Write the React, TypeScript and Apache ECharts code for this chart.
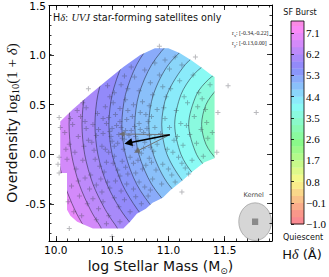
import React, { useEffect, useRef } from "react";
import * as echarts from "echarts";

// ---------- data ----------
const massRange = [9.94, 11.92];
const deltaRange = [-0.875, 1.5];
const massTicks = [10.0, 10.5, 11.0, 11.5];
const massMinorTicks = [10.0, 10.1, 10.2, 10.3, 10.4, 10.5, 10.6, 10.7, 10.8, 10.9, 11.0, 11.1, 11.2, 11.3, 11.4, 11.5, 11.6, 11.7, 11.8, 11.9];
const deltaTicks = [-0.5, 0.0, 0.5, 1.0, 1.5];
const deltaMinorTicks = [-0.8, -0.7, -0.6, -0.5, -0.4, -0.3, -0.2, -0.1, 0.0, 0.1, 0.2, 0.3, 0.4, 0.5, 0.6, 0.7, 0.8, 0.9, 1.0, 1.1, 1.2, 1.3, 1.4, 1.5];

const colorbarRange = [-1.0, 7.6];
const colorbarTicks = [-1.0, -0.1, 0.8, 1.7, 2.6, 3.5, 4.4, 5.3, 6.2, 7.1];
const colorbarLevels = [-1.0, -0.7, -0.4, -0.1, 0.2, 0.5, 0.8, 1.1, 1.4, 1.7, 2.0, 2.3, 2.6, 2.9, 3.2, 3.5, 3.8, 4.1, 4.4, 4.7, 5.0, 5.3, 5.6, 5.9, 6.2, 6.5, 6.8, 7.1, 7.4, 7.6];

// smoothed H-delta field: value outside all contours, contour levels and their paths (mass, overdensity)
const baseHdelta = 7.25;
const contourLevels = [7.1, 6.8, 6.5, 6.2, 5.9, 5.6, 5.3, 5.0, 4.7, 4.4, 4.1, 3.8, 3.5];
const contourPaths = [
  [[10.186, -0.858], [10.106, -0.707], [10.04, -0.556], [9.957, -0.304], [9.899, -0.002], [9.879, 0.3], [9.899, 0.602], [9.957, 0.904], [10.04, 1.156]],
  [[10.326, -0.858], [10.239, -0.707], [10.167, -0.556], [10.078, -0.304], [10.015, -0.002], [9.994, 0.3], [10.015, 0.602], [10.078, 0.904], [10.167, 1.156]],
  [[10.483, -0.858], [10.385, -0.707], [10.306, -0.556], [10.209, -0.304], [10.14, -0.002], [10.118, 0.3], [10.14, 0.602], [10.209, 0.904], [10.306, 1.156]],
  [[10.636, -0.858], [10.525, -0.707], [10.438, -0.556], [10.331, -0.304], [10.257, -0.002], [10.233, 0.3], [10.257, 0.602], [10.331, 0.904], [10.438, 1.156]],
  [[10.801, -0.858], [10.672, -0.707], [10.573, -0.556], [10.455, -0.304], [10.374, -0.002], [10.348, 0.3], [10.374, 0.602], [10.455, 0.904], [10.573, 1.156]],
  [[10.998, -0.858], [10.84, -0.707], [10.724, -0.556], [10.591, -0.304], [10.501, -0.002], [10.472, 0.3], [10.501, 0.602], [10.591, 0.904], [10.724, 1.156]],
  [[11.223, -0.858], [11.013, -0.707], [10.873, -0.556], [10.719, -0.304], [10.619, -0.002], [10.587, 0.3], [10.619, 0.602], [10.719, 0.904], [10.873, 1.156], [11.013, 1.307], [11.223, 1.458]],
  [[11.72, -0.858], [11.423, -0.808], [11.217, -0.707], [11.034, -0.556], [10.852, -0.304], [10.738, -0.002], [10.702, 0.3], [10.738, 0.602], [10.852, 0.904], [11.034, 1.156], [11.217, 1.307], [11.423, 1.408], [11.72, 1.458]],
  [[11.72, -0.717], [11.417, -0.657], [11.237, -0.556], [11.001, -0.304], [10.867, -0.002], [10.826, 0.3], [10.867, 0.602], [11.001, 0.904], [11.237, 1.156], [11.417, 1.257], [11.72, 1.317]],
  [[11.72, -0.586], [11.437, -0.526], [11.313, -0.455], [11.15, -0.304], [10.988, -0.002], [10.941, 0.3], [10.988, 0.602], [11.15, 0.904], [11.313, 1.055], [11.437, 1.126], [11.72, 1.186]],
  [[11.72, -0.455], [11.506, -0.415], [11.389, -0.355], [11.225, -0.204], [11.112, -0.002], [11.056, 0.3], [11.112, 0.602], [11.225, 0.804], [11.389, 0.955], [11.506, 1.015], [11.72, 1.055]],
  [[11.72, -0.314], [11.486, -0.254], [11.355, -0.153], [11.25, -0.002], [11.18, 0.3], [11.25, 0.602], [11.355, 0.753], [11.486, 0.854], [11.72, 0.914]],
  [[11.72, -0.183], [11.531, -0.133], [11.429, -0.052], [11.334, 0.099], [11.295, 0.3], [11.334, 0.501], [11.429, 0.652], [11.531, 0.733], [11.72, 0.783]],
];
// region where the smoothed map is defined (mass, overdensity)
const hullOutline = [
  [10.04, 0.33], [10.15, 0.45], [10.3, 0.6], [10.45, 0.74], [10.6, 0.88], [10.75, 1.0], [10.88, 1.07], [11.0, 1.07], [11.1, 1.02], [11.2, 0.95], [11.3, 0.87], [11.37, 0.81], [11.41, 0.78],
  [11.41, -0.04], [11.32, -0.08], [11.22, -0.17], [11.12, -0.27], [11.02, -0.36], [10.95, -0.44], [10.86, -0.49], [10.8, -0.55], [10.72, -0.6], [10.66, -0.68], [10.6, -0.75],
  [10.33, -0.75], [10.19, -0.68], [10.13, -0.62], [10.1, -0.56], [10.1, -0.19], [10.04, -0.19],
];

// satellites: [log stellar mass, log10(1+delta)]
const satellites = [
  [10.32, 0.12], [10.35, -0.05], [10.38, 0.25], [10.41, 0.08], [10.43, -0.18], [10.45, 0.31], [10.47, 0.02], [10.49, 0.18], [10.51, -0.09], [10.53, 0.4],
  [10.55, 0.11], [10.57, -0.22], [10.58, 0.27], [10.6, 0.05], [10.62, -0.13], [10.63, 0.35], [10.65, 0.19], [10.66, -0.03], [10.68, 0.09], [10.7, 0.28],
  [10.71, -0.19], [10.73, 0.14], [10.75, 0.42], [10.76, 0.01], [10.78, 0.22], [10.8, -0.11], [10.82, 0.33], [10.84, 0.07], [10.86, -0.25], [10.88, 0.17],
  [10.33, 0.3], [10.36, 0.19], [10.39, -0.12], [10.42, 0.36], [10.44, 0.05], [10.46, -0.28], [10.48, 0.23], [10.5, 0.13], [10.52, -0.02], [10.54, 0.29],
  [10.56, 0.2], [10.59, -0.07], [10.61, 0.15], [10.64, 0.44], [10.67, 0.24], [10.69, -0.09], [10.72, 0.04], [10.74, 0.31], [10.77, -0.15], [10.79, 0.12],
  [10.81, 0.26], [10.83, -0.04], [10.85, 0.38], [10.87, 0.03], [10.89, -0.16],
  [10.31, -0.21], [10.34, 0.04], [10.37, 0.41], [10.4, -0.25], [10.42, 0.21], [10.45, -0.08], [10.47, 0.37], [10.5, 0.26], [10.52, 0.08], [10.55, -0.16],
  [10.57, 0.33], [10.59, 0.16], [10.62, 0.24], [10.64, -0.2], [10.66, 0.12], [10.68, 0.38], [10.71, 0.18], [10.73, -0.06], [10.75, 0.25], [10.78, 0.06],
  [10.8, 0.4], [10.83, 0.19], [10.85, -0.08], [10.88, 0.27], [10.9, 0.1],
  [10.36, -0.31], [10.41, -0.38], [10.48, -0.34], [10.53, -0.27], [10.58, -0.37], [10.63, -0.3], [10.69, -0.35], [10.74, -0.28], [10.79, -0.33], [10.84, -0.36],
  [10.44, 0.48], [10.51, 0.52], [10.57, 0.46], [10.62, 0.55], [10.69, 0.5], [10.77, 0.53], [10.83, 0.49], [10.9, 0.45],
  [10.08, 0.22], [10.1, -0.05], [10.12, 0.1], [10.14, -0.32], [10.15, 0.3], [10.17, 0.02], [10.18, -0.15], [10.2, 0.18], [10.21, -0.42], [10.22, 0.38],
  [10.24, -0.06], [10.25, 0.08], [10.26, -0.24], [10.27, 0.26], [10.28, -0.5], [10.29, 0.14], [10.3, -0.35], [10.11, -0.48], [10.16, -0.58], [10.23, -0.62],
  [10.19, 0.44], [10.13, 0.36], [10.27, 0.47], [10.09, 0.05], [10.2, -0.27], [10.26, 0.33],
  [10.33, -0.45], [10.38, -0.55], [10.42, -0.48], [10.47, -0.62], [10.52, -0.44], [10.56, -0.53], [10.61, -0.46], [10.66, -0.58], [10.71, -0.43], [10.76, -0.5],
  [10.82, -0.42], [10.45, -0.7], [10.57, -0.68], [10.36, -0.66],
  [10.93, 0.21], [10.95, -0.1], [10.97, 0.36], [10.99, 0.05], [11.01, 0.27], [11.03, -0.21], [11.05, 0.14], [11.07, 0.44], [11.09, -0.03], [11.11, 0.31],
  [11.13, 0.09], [11.15, -0.14], [11.17, 0.52], [11.19, 0.2], [11.21, -0.06], [11.23, 0.38], [11.25, 0.11], [11.27, 0.62], [11.29, 0.25], [11.31, -0.02],
  [11.33, 0.45], [11.35, 0.16], [11.37, 0.7], [10.94, -0.3], [10.98, 0.58], [11.02, 0.66], [11.06, -0.28], [11.1, 0.74], [11.14, 0.58], [11.18, -0.2],
  [11.22, 0.8], [11.26, 0.48], [11.3, 0.56], [11.34, 0.32], [10.96, 0.47], [11.0, -0.15], [11.04, 0.02], [11.08, 0.18], [11.12, -0.09], [11.16, 0.29],
  [10.52, 0.62], [10.58, 0.7], [10.64, 0.66], [10.7, 0.78], [10.74, 0.64], [10.79, 0.85], [10.84, 0.72], [10.88, 0.92], [10.92, 0.8], [10.97, 0.95],
  [11.01, 0.86], [11.06, 0.98], [10.67, 0.88], [10.61, 0.79], [10.86, 0.6], [11.12, 0.9], [10.48, 0.58], [10.95, 0.68],
  [10.03, 0.37], [10.04, 0.27], [10.03, -0.03], [10.03, -0.19], [10.02, -0.1], [10.12, -0.75], [10.5, -0.83], [10.24, 0.52], [10.29, 0.66], [10.46, 0.69],
  [10.92, 1.09], [11.24, 0.98], [11.53, 0.69], [11.44, 0.42], [11.78, 0.42], [11.43, 0.02], [11.12, -0.38], [11.39, 0.22],
];

// gradient arrows (tail -> head)
const arrowTail = [11.013, 0.197];
const arrowBlackHead = [10.644, 0.114];
const arrowGreyHeads = [[10.586, 0.204], [10.719, 0.029]];

// smoothing kernel
const kernelCenter = [11.77, -0.68];
const kernelRadius = [0.145, 0.19];
const kernelBin = [0.055, 0.065];
const kernelLabelAt = [11.757, -0.407];

// ---------- style ----------
const SANS = "DejaVu Sans";
const SERIF = "Liberation Serif";
const FIELD_CLOSE_X = 11.9;

const cmapStops: [number, number[]][] = [
  [0.0, [1, 0, 0.16]],
  [0.03, [1, 0, 0]],
  [0.215, [1, 1, 0]],
  [0.4, [0, 1, 0]],
  [0.586, [0, 1, 1]],
  [0.77, [0, 0, 1]],
  [0.954, [1, 0, 1]],
  [1.0, [1, 0, 0.75]],
];

function hdColor(v: number): string {
  const t = Math.min(1, Math.max(0, (v - colorbarRange[0]) / (colorbarRange[1] - colorbarRange[0])));
  let k = 0;
  while (k < cmapStops.length - 2 && t > cmapStops[k + 1][0]) k++;
  const [t0, c0] = cmapStops[k];
  const [t1, c1] = cmapStops[k + 1];
  const f = (t - t0) / (t1 - t0);
  const rgb = c0.map((c, j) => {
    const raw = c + (c1[j] - c) * f;
    return Math.round(250 * (1 - 0.45 * (1 - raw)));
  });
  return `rgb(${rgb.join(",")})`;
}

const plotRect = { left: 49, top: 5, width: 223, height: 236 };
const tickFont = { fontFamily: SANS, fontSize: 10.5, color: "#000" };

function xAx(grid: number, position: string, ticks: number[], len: number, line: boolean, labels: boolean) {
  return {
    type: "value", gridIndex: grid, position, min: massRange[0], max: massRange[1], z: 10,
    axisLine: { show: line, onZero: false, lineStyle: { color: "#000", width: 1 } },
    axisTick: { show: true, inside: true, length: len, customValues: ticks, lineStyle: { color: "#000", width: 0.8 } },
    axisLabel: labels
      ? { show: true, customValues: massTicks, margin: 3, formatter: (v: number) => v.toFixed(1), ...tickFont }
      : { show: false },
    splitLine: { show: false },
  };
}
function yAx(grid: number, position: string, ticks: number[], len: number, line: boolean, labels: boolean) {
  return {
    type: "value", gridIndex: grid, position, min: deltaRange[0], max: deltaRange[1], z: 10,
    axisLine: { show: line, onZero: false, lineStyle: { color: "#000", width: 1 } },
    axisTick: { show: true, inside: true, length: len, customValues: ticks, lineStyle: { color: "#000", width: 0.8 } },
    axisLabel: labels
      ? { show: true, customValues: deltaTicks, margin: 3, formatter: (v: number) => v.toFixed(1), ...tickFont }
      : { show: false },
    splitLine: { show: false },
  };
}

export default function App() {
  const ref = useRef<HTMLDivElement>(null);
  useEffect(() => {
    if (!ref.current) return;
    const chart = echarts.init(ref.current, null, { renderer: "svg" });
    const fieldItems = [baseHdelta, ...contourLevels].map((lv, i) => [hullOutline[0][0], hullOutline[0][1], i, lv]);
    const option: any = {
      animation: false,
      grid: [
        { ...plotRect }, { ...plotRect }, { ...plotRect }, { ...plotRect },
        { left: 291, top: 21, width: 13, height: 203 },
      ],
      xAxis: [
        xAx(0, "bottom", massTicks, 5, true, true),
        xAx(1, "top", massTicks, 5, true, false),
        xAx(2, "bottom", massMinorTicks, 2.5, false, false),
        xAx(3, "top", massMinorTicks, 2.5, false, false),
        { type: "value", gridIndex: 4, min: 0, max: 1, show: false },
      ],
      yAxis: [
        yAx(0, "left", deltaTicks, 5, true, true),
        yAx(1, "right", deltaTicks, 5, true, false),
        yAx(2, "left", deltaMinorTicks, 2.5, false, false),
        yAx(3, "right", deltaMinorTicks, 2.5, false, false),
        {
          type: "value", gridIndex: 4, position: "right", min: colorbarRange[0], max: colorbarRange[1], z: 10,
          axisLine: { show: false },
          axisTick: { show: true, inside: false, length: 3, customValues: colorbarTicks, lineStyle: { color: "#000", width: 0.8 } },
          axisLabel: {
            show: true, customValues: colorbarTicks, margin: 2,
            formatter: (v: number) => (v < 0 ? "\u2212" : "") + Math.abs(v).toFixed(1),
            fontFamily: SERIF, fontSize: 11, color: "#000",
          },
          splitLine: { show: false },
        },
      ],
      series: [
        {
          type: "custom", xAxisIndex: 0, yAxisIndex: 0, z: 1, clip: true, silent: true,
          data: fieldItems,
          renderItem: (params: any, api: any) => {
            const k = api.value(2) as number;
            if (k === 0) {
              return { type: "polygon", z2: 0, shape: { points: hullOutline.map((p) => api.coord(p)) }, style: { fill: hdColor(baseHdelta) } };
            }
            const path = contourPaths[k - 1];
            const first = path[0];
            const last = path[path.length - 1];
            const pts = path.map((p) => api.coord(p));
            pts.push(api.coord([FIELD_CLOSE_X, last[1]]), api.coord([FIELD_CLOSE_X, first[1]]));
            return {
              type: "polygon", z2: k,
              shape: { points: pts, smooth: 0.3 },
              style: { fill: hdColor(contourLevels[k - 1] - 0.15), stroke: "rgba(30,30,45,0.75)", lineWidth: 0.7 },
            };
          },
        },
        {
          type: "custom", xAxisIndex: 0, yAxisIndex: 0, z: 2, clip: true, silent: true,
          data: [[massRange[0], deltaRange[0]]],
          renderItem: (params: any, api: any) => {
            const [x0, x1] = massRange;
            const [y0, y1] = deltaRange;
            const s = hullOutline[0];
            const outer = [[x0, s[1]], [x0, y1], [x1, y1], [x1, y0], [x0, y0], [x0, s[1]]];
            const inner = [hullOutline[0], ...hullOutline.slice(1).reverse(), hullOutline[0]];
            return { type: "polygon", shape: { points: [...outer, ...inner].map((p) => api.coord(p)) }, style: { fill: "#fff" } };
          },
        },
        {
          type: "scatter", xAxisIndex: 0, yAxisIndex: 0, z: 3, silent: true,
          data: satellites,
          symbol: "path://M4 0h2v4h4v2h-4v4h-2v-4h-4v-2h4z",
          symbolSize: 5,
          itemStyle: { color: "rgba(60,60,72,0.45)" },
        },
        {
          type: "lines", coordinateSystem: "cartesian2d", xAxisIndex: 0, yAxisIndex: 0, z: 4, silent: true,
          symbol: ["none", "triangle"], symbolSize: [4, 6],
          lineStyle: { color: "#6b6b6b", width: 1, opacity: 0.9 },
          data: arrowGreyHeads.map((h) => ({ coords: [arrowTail, h] })),
        },
        {
          type: "lines", coordinateSystem: "cartesian2d", xAxisIndex: 0, yAxisIndex: 0, z: 5, silent: true,
          symbol: ["none", "triangle"], symbolSize: [5, 8],
          lineStyle: { color: "#000", width: 1.5, opacity: 1 },
          data: [{ coords: [arrowTail, arrowBlackHead] }],
        },
        {
          type: "custom", xAxisIndex: 0, yAxisIndex: 0, z: 5, silent: true, clip: true,
          data: [kernelCenter],
          renderItem: (params: any, api: any) => {
            const c = api.coord(kernelCenter);
            const r = api.size(kernelRadius, kernelCenter);
            const b = api.size(kernelBin, kernelCenter);
            const t = api.coord(kernelLabelAt);
            return {
              type: "group",
              children: [
                { type: "ellipse", shape: { cx: c[0], cy: c[1], rx: r[0], ry: r[1] }, style: { fill: "#d6d6d6", stroke: "#9a9a9a", lineWidth: 0.7 } },
                { type: "rect", shape: { x: c[0] - b[0] / 2, y: c[1] - b[1] / 2, width: b[0], height: b[1] }, style: { fill: "#8a8a8a" } },
                { type: "text", x: t[0], y: t[1], style: { text: "Kernel", align: "center", verticalAlign: "middle", fontFamily: SANS, fontSize: 6.5, fill: "#444" } },
              ],
            };
          },
        },
        {
          type: "custom", xAxisIndex: 4, yAxisIndex: 4, z: 2, silent: true,
          data: colorbarLevels.slice(0, -1).map((lo, i) => [lo, colorbarLevels[i + 1]]),
          renderItem: (params: any, api: any) => {
            const lo = api.value(0) as number;
            const hi = api.value(1) as number;
            const p0 = api.coord([0, hi]);
            const p1 = api.coord([1, lo]);
            return { type: "rect", shape: { x: p0[0], y: p0[1], width: p1[0] - p0[0], height: p1[1] - p0[1] + 0.3 }, style: { fill: hdColor((lo + hi) / 2) } };
          },
        },
        {
          type: "custom", xAxisIndex: 4, yAxisIndex: 4, z: 3, silent: true,
          data: [[0, colorbarRange[0]]],
          renderItem: (params: any, api: any) => {
            const p0 = api.coord([0, colorbarRange[1]]);
            const p1 = api.coord([1, colorbarRange[0]]);
            return { type: "rect", shape: { x: p0[0], y: p0[1], width: p1[0] - p0[0], height: p1[1] - p0[1] }, style: { fill: "none", stroke: "#000", lineWidth: 0.8 } };
          },
        },
      ],
      graphic: [
        {
          type: "text", x: 53, y: 17, z: 100,
          style: {
            text: "{s|H}{g|\u03b4}{s|: }{i|UVJ}{s| star-forming satellites only}",
            align: "left", verticalAlign: "middle",
            rich: {
              s: { fontFamily: SANS, fontSize: 9.6, fill: "#111" },
              g: { fontFamily: SERIF, fontStyle: "italic", fontSize: 10.5, fill: "#111" },
              i: { fontFamily: SERIF, fontStyle: "italic", fontSize: 10.5, fill: "#111" },
            },
          },
        },
        {
          type: "text", x: 232, y: 33, z: 100,
          style: {
            text: "{r|r}{b|x}{r|: [-0.34,-0.22]}", align: "left", verticalAlign: "middle",
            rich: { r: { fontFamily: SERIF, fontSize: 5.8, fill: "#222", lineHeight: 8 }, b: { fontFamily: SERIF, fontSize: 4.2, fill: "#222", verticalAlign: "bottom", lineHeight: 5 } },
          },
        },
        {
          type: "text", x: 232, y: 43, z: 100,
          style: {
            text: "{r|r}{b|y}{r|: [-0.13,0.00]}", align: "left", verticalAlign: "middle",
            rich: { r: { fontFamily: SERIF, fontSize: 5.8, fill: "#222", lineHeight: 8 }, b: { fontFamily: SERIF, fontSize: 4.2, fill: "#222", verticalAlign: "bottom", lineHeight: 5 } },
          },
        },
        { type: "text", x: 300, y: 12, z: 100, style: { text: "SF Burst", align: "center", verticalAlign: "middle", fontFamily: SANS, fontSize: 8, fill: "#111" } },
        { type: "text", x: 303, y: 237, z: 100, style: { text: "Quiescent", align: "center", verticalAlign: "middle", fontFamily: SANS, fontSize: 8, fill: "#111" } },
        {
          type: "text", x: 302, y: 254, z: 100,
          style: {
            text: "{a|H}{d|\u03b4}{a| (\u00c5)}", align: "center", verticalAlign: "middle",
            rich: { a: { fontFamily: SANS, fontSize: 13, fill: "#111" }, d: { fontFamily: SERIF, fontStyle: "italic", fontSize: 14, fill: "#111" } },
          },
        },
        {
          type: "text", x: 160.5, y: 266, z: 100,
          style: {
            text: "{a|log Stellar Mass (M}{b|\u2299}{a|)}", align: "center", verticalAlign: "middle",
            rich: {
              a: { fontFamily: SANS, fontSize: 14, fill: "#111", lineHeight: 18 },
              b: { fontFamily: SANS, fontSize: 9, fill: "#111", verticalAlign: "bottom", lineHeight: 8 },
            },
          },
        },
        {
          type: "text", x: 12, y: 123, z: 100, rotation: Math.PI / 2,
          style: {
            text: "{a|Overdensity }{m|log}{b|10}{m|(1 + }{d|\u03b4}{m|)}", align: "center", verticalAlign: "middle",
            rich: {
              a: { fontFamily: SANS, fontSize: 14, fill: "#111", lineHeight: 18 },
              m: { fontFamily: SERIF, fontSize: 15, fill: "#111", lineHeight: 18 },
              b: { fontFamily: SERIF, fontSize: 10.5, fill: "#111", verticalAlign: "bottom", lineHeight: 9 },
              d: { fontFamily: SERIF, fontStyle: "italic", fontSize: 15, fill: "#111", lineHeight: 18 },
            },
          },
        },
      ],
    };
    chart.setOption(option);
    return () => chart.dispose();
  }, []);
  return <div ref={ref} style={{ position: "absolute", left: 0, top: 0, width: 329, height: 277 }} />;
}
